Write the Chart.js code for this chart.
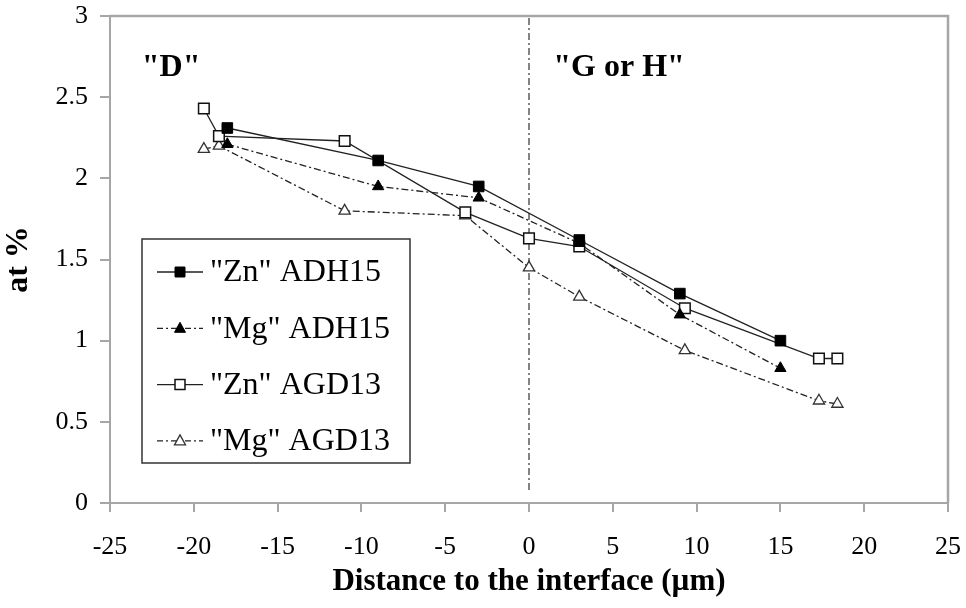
<!DOCTYPE html>
<html>
<head>
<meta charset="utf-8">
<script src="https://cdn.jsdelivr.net/npm/chart.js@4.4.1/dist/chart.umd.min.js"></script>
<style>
  html, body { margin: 0; padding: 0; background: #fff; }
  #wrap { width: 966px; height: 608px; }
</style>
</head>
<body>
<div id="wrap"><canvas id="profile"></canvas></div>
<script>
// Data
const xADH15 = [-18, -9, -3, 3, 9, 15];
const znADH15 = [2.31, 2.11, 1.95, 1.62, 1.29, 1.0];
const mgADH15 = [2.21, 1.95, 1.88, 1.6, 1.16, 0.83];

const xAGD13 = [-19.4, -18.5, -11, -3.8, 0, 3, 9.3, 17.3, 18.4];
const znAGD13 = [2.43, 2.26, 2.23, 1.79, 1.63, 1.58, 1.2, 0.89, 0.89];
const mgAGD13 = [2.18, 2.2, 1.8, 1.77, 1.45, 1.27, 0.94, 0.63, 0.61];

const seriesLabels = ['"Zn" ADH15', '"Mg" ADH15', '"Zn" AGD13', '"Mg" AGD13'];

// interface line and zone labels
const interfaceX = [0, 0];
const interfaceY = [0.08, 3];
const zoneLabels = ['"D"', '"G or H"'];
const zoneX = [-23.1, 1.45];
const zoneY = [2.63, 2.63];

const serif = '"Liberation Serif", "Times New Roman", serif';
const axisGray = "#a6a6a6";
const ink = "#222";
const dashDot = [7, 3, 2, 3];

const toPts = (xs, ys) => xs.map((x, i) => ({ x: x, y: ys[i] }));

const datasets = [
  {
    label: seriesLabels[0],
    data: toPts(xADH15, znADH15),
    borderColor: ink, borderWidth: 1.3,
    pointStyle: "rect", pointRadius: 7.5,
    pointBackgroundColor: "#000", pointBorderColor: "#000", pointBorderWidth: 1,
  },
  {
    label: seriesLabels[1],
    data: toPts(xADH15, mgADH15),
    borderColor: ink, borderWidth: 1.3, borderDash: dashDot,
    pointStyle: "triangle", pointRadius: 6.5,
    pointBackgroundColor: "#000", pointBorderColor: "#000", pointBorderWidth: 1,
  },
  {
    label: seriesLabels[2],
    data: toPts(xAGD13, znAGD13),
    borderColor: ink, borderWidth: 1.3,
    pointStyle: "rect", pointRadius: 7.5,
    pointBackgroundColor: "#fff", pointBorderColor: "#111", pointBorderWidth: 1.5,
  },
  {
    label: seriesLabels[3],
    data: toPts(xAGD13, mgAGD13),
    borderColor: ink, borderWidth: 1.3, borderDash: dashDot,
    pointStyle: "triangle", pointRadius: 6.5,
    pointBackgroundColor: "#fff", pointBorderColor: "#333", pointBorderWidth: 1.3,
  },
  {
    label: "interface",
    data: toPts(interfaceX, interfaceY),
    borderColor: "#333", borderWidth: 1.2, borderDash: [7, 3, 2, 3],
    pointRadius: 0,
    order: 10,
  },
];

// frame on top/right, zone labels, boxed legend
const decorations = {
  id: "decorations",
  afterDatasetsDraw(chart) {
    const { ctx, chartArea: a, scales } = chart;
    ctx.save();
    ctx.strokeStyle = axisGray;
    ctx.lineWidth = 2.5;
    ctx.beginPath();
    ctx.moveTo(a.left, a.top);
    ctx.lineTo(a.right, a.top);
    ctx.lineTo(a.right, a.bottom);
    ctx.stroke();

    ctx.fillStyle = "#000";
    ctx.font = "bold 32px " + serif;
    ctx.textBaseline = "alphabetic";
    ctx.textAlign = "left";
    zoneLabels.forEach((t, i) => {
      ctx.fillText(t, scales.x.getPixelForValue(zoneX[i]), scales.y.getPixelForValue(zoneY[i]));
    });

    // legend box
    const bx = 142, by = 239, bw = 268, bh = 224;
    ctx.fillStyle = "#fff";
    ctx.fillRect(bx, by, bw, bh);
    ctx.strokeStyle = "#333";
    ctx.lineWidth = 1.5;
    ctx.strokeRect(bx, by, bw, bh);
    ctx.font = "32px " + serif;
    ctx.textBaseline = "middle";
    chart.data.datasets.slice(0, 4).forEach((ds, i) => {
      const cy = by + 33 + i * 56.3;
      ctx.strokeStyle = ds.borderColor;
      ctx.lineWidth = ds.borderWidth;
      ctx.setLineDash(ds.borderDash ? [6, 3, 2, 3] : []);
      ctx.beginPath();
      ctx.moveTo(157, cy);
      ctx.lineTo(203, cy);
      ctx.stroke();
      ctx.setLineDash([]);
      ctx.fillStyle = ds.pointBackgroundColor;
      ctx.strokeStyle = ds.pointBorderColor;
      ctx.lineWidth = ds.pointBorderWidth;
      ctx.beginPath();
      if (ds.pointStyle === "rect") {
        ctx.rect(180 - 5, cy - 5, 10, 10);
      } else {
        ctx.moveTo(180, cy - 6);
        ctx.lineTo(185.5, cy + 4);
        ctx.lineTo(174.5, cy + 4);
        ctx.closePath();
      }
      ctx.fill();
      ctx.stroke();
      ctx.fillStyle = "#000";
      ctx.fillText(ds.label, 210, cy + 1);
    });
    ctx.restore();
  },
};

// keep the plot box where the figure has it
function noScalePadding(scale) {
  scale.paddingTop = 0;
  scale.paddingBottom = 0;
  scale.paddingLeft = 0;
  scale.paddingRight = 0;
}

new Chart(document.getElementById("profile"), {
  type: "line",
  data: { datasets: datasets },
  plugins: [decorations],
  options: {
    responsive: true,
    maintainAspectRatio: false,
    animation: false,
    layout: { padding: { left: 0, right: 18, top: 16, bottom: 0 } },
    plugins: { legend: { display: false }, tooltip: { enabled: false } },
    scales: {
      x: {
        type: "linear",
        min: -25, max: 25,
        ticks: { stepSize: 5, color: "#000", padding: 20, font: { family: serif, size: 26 } },
        grid: { drawOnChartArea: false, color: axisGray, tickLength: 9, lineWidth: 2 },
        border: { color: axisGray, width: 2 },
        title: {
          display: true, text: "Distance to the interface (µm)", color: "#000",
          font: { family: serif, size: 31, weight: "bold" }, padding: { top: 0, bottom: 7 },
        },
        afterFit(scale) { scale.height = 105; noScalePadding(scale); },
      },
      y: {
        min: 0, max: 3,
        ticks: {
          stepSize: 0.5, color: "#000", padding: 12, font: { family: serif, size: 26 },
          callback: (v) => String(v),
        },
        grid: { drawOnChartArea: false, color: axisGray, tickLength: 10, lineWidth: 2 },
        border: { color: axisGray, width: 2 },
        title: {
          display: true, text: "at %", color: "#000",
          font: { family: serif, size: 32, weight: "bold" }, padding: { top: 0, bottom: 4 },
        },
        afterFit(scale) { scale.width = 110; noScalePadding(scale); },
      },
    },
  },
});
</script>
</body>
</html>
